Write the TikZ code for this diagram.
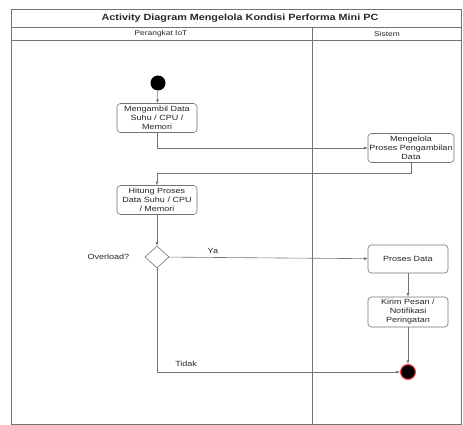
\documentclass[tikz,border=0pt]{standalone}
\usepackage{fontspec}
\setmainfont{Liberation Sans}[FakeStretch=1.2]
\usetikzlibrary{positioning, shapes.geometric, arrows.meta}

\begin{document}
\begin{tikzpicture}[x=1pt, y=-1pt, line width=0.6pt, >={Latex[length=3.5pt,width=3pt]},
  every node/.style={font=\fontsize{7.5}{9}\selectfont, align=center, text=black!85},
  act/.style={draw=black!55, rounded corners=3.5pt, fill=white, minimum width=80pt, minimum height=29pt, inner sep=1pt},
  mulai/.style={circle, fill=black, minimum size=15pt, inner sep=0pt},
  selesai/.style={circle, fill=black, draw=red!70, line width=1.1pt, minimum size=15pt, inner sep=0pt},
  cabang/.style={diamond, draw=black!55, fill=white, minimum width=24pt, minimum height=22pt, inner sep=0pt},
  garis/.style={draw=black!55, ->}]
\useasboundingbox (0,0) rectangle (463,425);
% frame and swimlanes
\draw[black!55] (11,9) rectangle (461,424);
\draw[black!55] (11,27) -- (461,27);
\draw[black!55] (11,40) -- (461,40);
\draw[black!55] (312,27) -- (312,424);
\node[font=\fontsize{9}{10}\selectfont\bfseries] (judul) at (240,18) {Activity Diagram Mengelola Kondisi Performa Mini PC};
\node[font=\fontsize{7}{8}\selectfont] (lane1) at (161,34) {Perangkat IoT};
\node[font=\fontsize{7}{8}\selectfont] (lane2) at (387,34) {Sistem};

% activities
\node[mulai] (start) at (158,83) {};
\node[act] (ambil) at (157,118) {Mengambil Data\\Suhu / CPU /\\Memori};
\node[act, minimum width=86pt] (kelola) at (411,148) {Mengelola\\Proses Pengambilan\\Data};
\node[act] (hitung) at (157,200) {Hitung Proses\\Data Suhu / CPU\\/ Memori};
\node[cabang] (cek) at (157,257) {};
\node[left=12pt of cek] (overload) {Overload?};
\node[act, minimum height=28pt] (proses) at (408,259) {Proses Data};
\node[act, minimum height=30pt] (kirim) at (408,312) {Kirim Pesan /\\Notifikasi\\Peringatan};
\node[selesai] (stop) at (408,372) {};

% flows
\draw[garis] (start) -- (ambil);
\draw[garis] (ambil) |- (kelola);
\draw[garis] (kelola.south) -- ++(0,10) -| (hitung.north);
\draw[garis] (hitung) -- (cek);
\draw[garis] (cek) -- node[pos=0.22, above] {Ya} (proses);
\draw[garis] (cek) |- node[pos=0.56, above=2pt] {Tidak} (stop);
\draw[garis] (proses) -- (kirim);
\draw[garis] (kirim) -- (stop);
\end{tikzpicture}
\end{document}
